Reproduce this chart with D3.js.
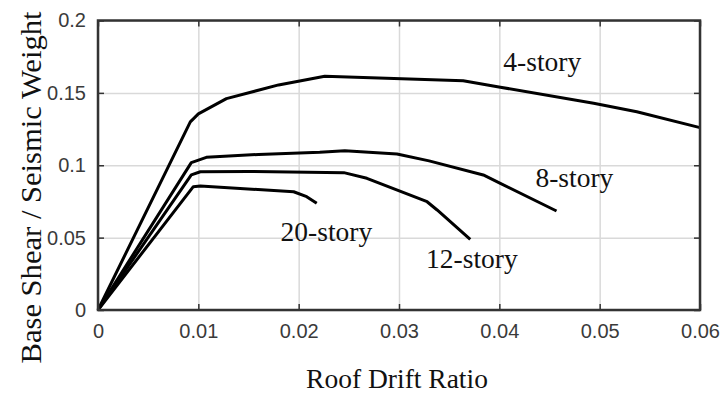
<!DOCTYPE html>
<html>
<head>
<meta charset="utf-8">
<script src="https://cdn.jsdelivr.net/npm/d3@7"></script>
<style>
  html, body { margin: 0; padding: 0; background: #fff; }
  svg { display: block; }
</style>
</head>
<body>
<svg id="chart" width="721" height="394"></svg>
<script>
// ---- data ----
const xTicks = [0, 0.01, 0.02, 0.03, 0.04, 0.05, 0.06];
const yTicks = [0, 0.05, 0.1, 0.15, 0.2];
const xTickLabels = ["0", "0.01", "0.02", "0.03", "0.04", "0.05", "0.06"];
const yTickLabels = ["0", "0.05", "0.1", "0.15", "0.2"];

const seriesNames = ["4-story", "8-story", "12-story", "20-story"];

const story4X = [0, 0.0092, 0.0100, 0.0128, 0.0180, 0.0226, 0.0364, 0.0401, 0.0494, 0.0537, 0.0600];
const story4Y = [0, 0.130, 0.1355, 0.146, 0.1555, 0.1615, 0.1584, 0.1539, 0.1428, 0.137, 0.126];

const story8X = [0, 0.0093, 0.0108, 0.0160, 0.0221, 0.0246, 0.0298, 0.0330, 0.0384, 0.0401, 0.0457];
const story8Y = [0, 0.1018, 0.1055, 0.1075, 0.109, 0.110, 0.1078, 0.103, 0.0933, 0.0875, 0.0684];

const story12X = [0, 0.0093, 0.0102, 0.0150, 0.0245, 0.0268, 0.0328, 0.0338, 0.0371];
const story12Y = [0, 0.0933, 0.0955, 0.0957, 0.0949, 0.091, 0.0748, 0.0691, 0.0488];

const story20X = [0, 0.0095, 0.0102, 0.0195, 0.0208, 0.0218];
const story20Y = [0, 0.0852, 0.0857, 0.0817, 0.0783, 0.0737];

// label anchor points in data units
const labelX = [0.0404, 0.0436, 0.0327, 0.0182];
const labelY = [0.1650, 0.0853, 0.0288, 0.0480];

const xTitle = "Roof Drift Ratio";
const yTitle = "Base Shear / Seismic Weight";

// ---- layout ----
const W = 721, H = 394;
const margin = { left: 98, right: 21, top: 20.5, bottom: 84 };
const iw = W - margin.left - margin.right;
const ih = H - margin.top - margin.bottom;

const svg = d3.select("#chart");
const g = svg.append("g").attr("transform", `translate(${margin.left},${margin.top})`);

const x = d3.scaleLinear().domain([0, 0.06]).range([0, iw]);
const y = d3.scaleLinear().domain([0, 0.2]).range([ih, 0]);

// grid
g.append("g")
  .attr("transform", `translate(0,${ih})`)
  .call(d3.axisBottom(x).tickValues(xTicks).tickSize(-ih).tickFormat(""))
  .call(s => { s.select(".domain").remove(); s.selectAll("line").attr("stroke", "#d9d9d9").attr("stroke-width", 1.5); });
g.append("g")
  .call(d3.axisLeft(y).tickValues(yTicks).tickSize(-iw).tickFormat(""))
  .call(s => { s.select(".domain").remove(); s.selectAll("line").attr("stroke", "#d9d9d9").attr("stroke-width", 1.5); });

// curves
const allSeries = [
  [story4X, story4Y],
  [story8X, story8Y],
  [story12X, story12Y],
  [story20X, story20Y]
];
const line = d3.line().x(d => x(d[0])).y(d => y(d[1]));
allSeries.forEach(([xs, ys]) => {
  g.append("path")
    .datum(xs.map((v, i) => [v, ys[i]]))
    .attr("d", line)
    .attr("fill", "none")
    .attr("stroke", "#000")
    .attr("stroke-width", 3)
    .attr("stroke-linejoin", "round");
});

// axes with inside ticks
const tickColor = "#333";
const styleAxis = s => {
  s.select(".domain").remove();
  s.selectAll(".tick line").attr("stroke", tickColor).attr("stroke-width", 1.5);
  s.selectAll("text").attr("fill", "#3a3a3a").style("font-family", "Arial, 'Liberation Sans', sans-serif").style("font-size", "20px");
};
g.append("g").attr("transform", `translate(0,${ih})`)
  .call(d3.axisBottom(x).tickValues(xTicks).tickSizeInner(-6).tickSizeOuter(0).tickPadding(14)
    .tickFormat((d, i) => xTickLabels[i]))
  .call(styleAxis);
g.append("g")
  .call(d3.axisLeft(y).tickValues(yTicks).tickSizeInner(-6).tickSizeOuter(0).tickPadding(12)
    .tickFormat((d, i) => yTickLabels[i]))
  .call(styleAxis);
g.append("g")
  .call(d3.axisTop(x).tickValues(xTicks).tickSizeInner(-6).tickSizeOuter(0).tickFormat(""))
  .call(styleAxis);
g.append("g").attr("transform", `translate(${iw},0)`)
  .call(d3.axisRight(y).tickValues(yTicks).tickSizeInner(-6).tickSizeOuter(0).tickFormat(""))
  .call(styleAxis);

// frame
g.append("rect").attr("width", iw).attr("height", ih)
  .attr("fill", "none").attr("stroke", "#333").attr("stroke-width", 2.5);

// series labels
const serif = "'Liberation Serif', 'Times New Roman', serif";
seriesNames.forEach((name, i) => {
  g.append("text")
    .attr("x", x(labelX[i])).attr("y", y(labelY[i]))
    .attr("fill", "#111")
    .style("font-family", serif).style("font-size", "27.5px")
    .text(name);
});

// axis titles
svg.append("text")
  .attr("x", margin.left + iw / 2 - 2).attr("y", 388)
  .attr("text-anchor", "middle")
  .attr("fill", "#111")
  .style("font-family", serif).style("font-size", "27.5px")
  .text(xTitle);
svg.append("text")
  .attr("transform", `translate(41,187.5) rotate(-90)`)
  .attr("text-anchor", "middle")
  .attr("textLength", 352)
  .attr("lengthAdjust", "spacingAndGlyphs")
  .attr("fill", "#111")
  .style("font-family", serif).style("font-size", "29px")
  .text(yTitle);
</script>
</body>
</html>
